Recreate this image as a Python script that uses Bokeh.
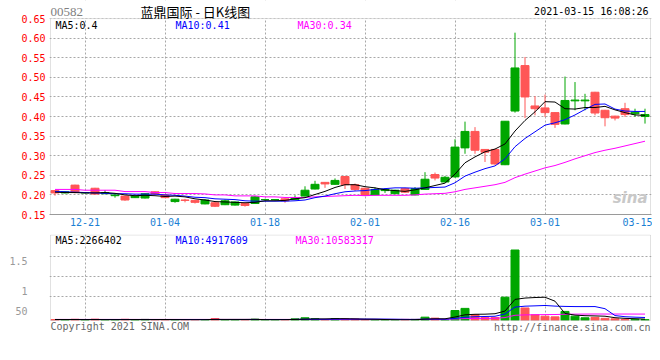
from bokeh.plotting import figure
from bokeh.models import Range1d, FixedTicker, Label, ColumnDataSource, PrintfTickFormatter, BoxAnnotation
from bokeh.layouts import column
from bokeh.embed import file_html
from bokeh.resources import INLINE

# ---------------- data ----------------
dates = ["12-16", "12-17", "12-18", "12-21", "12-22", "12-23", "12-24", "12-28", "12-29", "12-30",
         "12-31", "01-04", "01-05", "01-06", "01-07", "01-08", "01-11", "01-12", "01-13", "01-14",
         "01-15", "01-18", "01-19", "01-20", "01-21", "01-22", "01-25", "01-26", "01-27", "01-28",
         "01-29", "02-01", "02-02", "02-03", "02-04", "02-05", "02-08", "02-09", "02-10", "02-11",
         "02-16", "02-17", "02-18", "02-19", "02-22", "02-23", "02-24", "02-25", "02-26", "03-01",
         "03-02", "03-03", "03-04", "03-05", "03-08", "03-09", "03-10", "03-11", "03-12", "03-15"]

open_ = [0.211, 0.205, 0.225, 0.205, 0.217, 0.203, 0.198, 0.197, 0.193, 0.192,
         0.208, 0.200, 0.183, 0.187, 0.186, 0.177, 0.180, 0.175, 0.174, 0.178,
         0.178, 0.188, 0.188, 0.190, 0.188, 0.197, 0.215, 0.232, 0.227, 0.247,
         0.226, 0.217, 0.200, 0.211, 0.203, 0.216, 0.200, 0.214, 0.252, 0.233,
         0.246, 0.320, 0.362, 0.316, 0.316, 0.277, 0.414, 0.530, 0.427, 0.422,
         0.410, 0.381, 0.440, 0.440, 0.462, 0.416, 0.401, 0.420, 0.407, 0.400]
high = [0.212, 0.209, 0.226, 0.207, 0.218, 0.212, 0.202, 0.198, 0.198, 0.204,
        0.209, 0.201, 0.190, 0.190, 0.187, 0.189, 0.181, 0.188, 0.183, 0.179,
        0.197, 0.190, 0.189, 0.191, 0.199, 0.222, 0.236, 0.233, 0.242, 0.248,
        0.229, 0.218, 0.219, 0.217, 0.213, 0.218, 0.220, 0.258, 0.257, 0.248,
        0.342, 0.387, 0.373, 0.317, 0.317, 0.388, 0.614, 0.552, 0.452, 0.456,
        0.411, 0.502, 0.488, 0.458, 0.463, 0.417, 0.402, 0.435, 0.420, 0.420]
low = [0.198, 0.204, 0.204, 0.205, 0.201, 0.202, 0.193, 0.185, 0.192, 0.191,
       0.201, 0.192, 0.180, 0.181, 0.178, 0.176, 0.169, 0.174, 0.173, 0.170,
       0.177, 0.186, 0.186, 0.180, 0.187, 0.196, 0.214, 0.218, 0.226, 0.215,
       0.210, 0.198, 0.199, 0.205, 0.202, 0.205, 0.199, 0.213, 0.237, 0.232,
       0.244, 0.305, 0.305, 0.284, 0.277, 0.276, 0.410, 0.396, 0.403, 0.399,
       0.371, 0.380, 0.416, 0.416, 0.403, 0.375, 0.390, 0.399, 0.399, 0.382]
close = [0.205, 0.208, 0.206, 0.206, 0.202, 0.206, 0.200, 0.187, 0.197, 0.203,
         0.202, 0.193, 0.189, 0.186, 0.181, 0.187, 0.171, 0.185, 0.182, 0.173,
         0.195, 0.188, 0.188, 0.185, 0.193, 0.212, 0.227, 0.228, 0.237, 0.226,
         0.214, 0.199, 0.214, 0.214, 0.212, 0.207, 0.216, 0.240, 0.243, 0.245,
         0.322, 0.362, 0.314, 0.309, 0.279, 0.388, 0.524, 0.450, 0.420, 0.410,
         0.380, 0.441, 0.442, 0.442, 0.409, 0.397, 0.396, 0.405, 0.411, 0.405]

ma5 = [0.207, 0.206, 0.206, 0.205, 0.205, 0.206, 0.204, 0.200, 0.198, 0.199,
       0.198, 0.196, 0.197, 0.195, 0.190, 0.187, 0.183, 0.182, 0.181, 0.180,
       0.181, 0.185, 0.185, 0.186, 0.190, 0.193, 0.201, 0.209, 0.219, 0.226,
       0.226, 0.221, 0.218, 0.213, 0.211, 0.209, 0.213, 0.218, 0.224, 0.230,
       0.253, 0.282, 0.297, 0.310, 0.317, 0.330, 0.363, 0.390, 0.412, 0.438,
       0.437, 0.420, 0.419, 0.423, 0.423, 0.426, 0.417, 0.410, 0.404, 0.403]
ma10 = [0.209, 0.208, 0.207, 0.206, 0.205, 0.204, 0.203, 0.203, 0.202, 0.202,
        0.202, 0.200, 0.199, 0.197, 0.194, 0.193, 0.190, 0.189, 0.188, 0.185,
        0.184, 0.184, 0.184, 0.184, 0.185, 0.187, 0.193, 0.197, 0.203, 0.208,
        0.210, 0.211, 0.214, 0.216, 0.218, 0.218, 0.217, 0.218, 0.219, 0.220,
        0.231, 0.248, 0.258, 0.267, 0.274, 0.292, 0.323, 0.344, 0.361, 0.378,
        0.384, 0.392, 0.404, 0.418, 0.431, 0.432, 0.419, 0.414, 0.413, 0.413]
ma30 = [0.214, 0.214, 0.214, 0.212, 0.212, 0.212, 0.212, 0.2085, 0.2085, 0.2085,
        0.206, 0.206, 0.2035, 0.2035, 0.2035, 0.2025, 0.200, 0.200, 0.1975, 0.1975,
        0.1975, 0.195, 0.195, 0.1935, 0.1935, 0.1935, 0.195, 0.196, 0.197, 0.198,
        0.199, 0.198, 0.199, 0.199, 0.199, 0.199, 0.200, 0.202, 0.203, 0.204,
        0.208, 0.214, 0.218, 0.222, 0.226, 0.232, 0.244, 0.253, 0.261, 0.269,
        0.275, 0.283, 0.292, 0.300, 0.308, 0.314, 0.319, 0.325, 0.331, 0.337]

# volume, millions of shares
volume = [1.5, 1.2, 2.0, 1.0, 2.2, 1.0, 1.2, 2.0, 1.5, 1.8,
          1.3, 1.4, 1.6, 1.0, 1.5, 1.6, 3.2, 1.5, 1.2, 1.4,
          2.2, 1.0, 1.2, 1.3, 2.8, 4.5, 3.0, 1.5, 3.2, 2.6,
          2.5, 1.0, 1.0, 1.0, 1.0, 1.8, 1.8, 5.5, 3.9, 1.0,
          16.5, 20.0, 9.8, 4.8, 4.8, 38.5, 116.3, 20.7, 9.3, 7.1,
          6.0, 15.0, 7.2, 4.5, 5.2, 3.5, 2.8, 1.6, 1.9, 1.5]
vol_ma5 = [1.6, 1.6, 1.6, 1.5, 1.58, 1.48, 1.48, 1.48, 1.58, 1.50,
           1.56, 1.60, 1.52, 1.42, 1.36, 1.42, 1.78, 1.76, 1.80, 1.78,
           1.90, 1.46, 1.40, 1.42, 1.70, 2.16, 2.56, 2.62, 3.00, 2.96,
           2.56, 2.16, 2.06, 1.62, 1.30, 1.16, 1.32, 2.22, 2.80, 2.80,
           5.74, 9.38, 10.24, 10.42, 11.18, 15.58, 34.84, 37.02, 37.92, 38.38,
           31.88, 11.62, 8.92, 7.96, 7.58, 7.08, 4.64, 3.52, 3.00, 2.26]
vol_ma10 = [1.6, 1.6, 1.6, 1.6, 1.6, 1.6, 1.6, 1.6, 1.6, 1.54,
            1.52, 1.54, 1.50, 1.50, 1.43, 1.49, 1.69, 1.64, 1.61, 1.57,
            1.66, 1.62, 1.58, 1.61, 1.74, 2.03, 2.01, 2.01, 2.21, 2.33,
            2.36, 2.36, 2.34, 2.31, 2.13, 1.86, 1.74, 2.14, 2.21, 2.05,
            3.45, 5.35, 6.23, 6.61, 6.99, 10.66, 22.11, 23.63, 24.17, 24.78,
            23.73, 23.23, 22.97, 22.94, 22.98, 19.48, 8.13, 6.22, 5.48, 4.92]
vol_ma30 = [1.8, 1.8, 1.8, 1.8, 1.8, 1.8, 1.8, 1.8, 1.8, 1.8,
            1.8, 1.8, 1.8, 1.8, 1.8, 1.8, 1.8, 1.8, 1.8, 1.8,
            1.8, 1.8, 1.8, 1.8, 1.8, 1.8, 1.8, 1.8, 1.8, 1.81,
            1.85, 1.84, 1.81, 1.81, 1.77, 1.79, 1.81, 1.93, 2.01, 1.98,
            2.49, 3.11, 3.38, 3.51, 3.62, 4.85, 8.62, 9.26, 9.53, 9.72,
            9.85, 10.31, 10.51, 10.62, 10.70, 10.67, 10.66, 10.66, 10.62, 10.58]

tick_dates = ["12-21", "01-04", "01-18", "02-01", "02-16", "03-01", "03-15"]
price_ticks = [0.15, 0.20, 0.25, 0.30, 0.35, 0.40, 0.45, 0.50, 0.55, 0.60, 0.65]
vol_tick_values = [16.5, 49.5, 97.8]
vol_tick_labels = ["50", "1", "1.5"]
vol_grid_values = [40.0, 72.5, 105.5]

header_code = "00582"
header_title = "蓝鼎国际 - 日K线图"
header_time = "2021-03-15 16:08:26"
price_legend = ["MA5:0.4", "MA10:0.41", "MA30:0.34"]
vol_legend = ["MA5:2266402", "MA10:4917609", "MA30:10583317"]
copyright_text = "Copyright 2021 SINA.COM"
url_text = "http://finance.sina.com.cn"
watermark = "sina"

# ---------------- styles / layout ----------------
UP = "#00a600"
DOWN = "#ff5656"
GRID = "#a8a8a8"
BORDER = "#9a9a9a"
MONO = "DejaVu Sans Mono"
MA_COLORS = ["#000000", "#0000ff", "#ff00ff"]

W = 652
PITCH = 10.0          # px per trading day
X0_PX = 54.5          # pixel of first candle
FRAME_L, FRAME_R = 49, 651
P1_H, P1_BOTTOM_PX = 233, 214          # price panel: canvas height, pixel of 0.15
PRICE_LO, PRICE_TOP_GRID = 0.15, 0.65
PX_PER_PRICE = 391.87
P2_TOP, P2_H = 233, 119                # volume panel canvas top / height
VOL_BASE_PX, VOL_TOP_PX = 320, 234
VOL_PER_PX = 1.65


def fx(px):
    return (px - X0_PX) / PITCH


def fy_price(py):
    return PRICE_LO + (P1_BOTTOM_PX - py) / PX_PER_PRICE


def fy_vol(py):
    return (VOL_BASE_PX - py) * VOL_PER_PX


xs = list(range(len(dates)))
colors = [UP if c >= o else DOWN for o, c in zip(open_, close)]
src = ColumnDataSource(dict(
    x=xs, open=open_, high=high, low=low, close=close,
    top=[max(o, c) for o, c in zip(open_, close)],
    bottom=[min(o, c) for o, c in zip(open_, close)],
    color=colors, ma5=ma5, ma10=ma10, ma30=ma30,
    vol=volume, vma5=vol_ma5, vma10=vol_ma10, vma30=vol_ma30,
))
tick_idx = [dates.index(d) for d in tick_dates]
grid_idx = tick_idx[:-1]
# last date label is right-aligned against the panel edge, as in the original
label_pos = grid_idx + [fx(637.5)]

x_range = Range1d(fx(FRAME_L), fx(FRAME_R))


def label(p, text, x, y, color, size="10px", font=MONO, align="left", style="normal"):
    p.add_layout(Label(x=x, y=y, text=text, text_color=color, text_font_size=size,
                       text_font=font, text_align=align, text_baseline="middle",
                       text_font_style=style))


def style_common(p):
    p.background_fill_color = "white"
    p.border_fill_color = "white"
    p.outline_line_color = None
    for g in (p.xgrid, p.ygrid):
        g.grid_line_color = GRID
        g.grid_line_dash = "2 2"
        g.grid_line_width = 1
    for ax in (p.xaxis, p.yaxis):
        ax.major_tick_line_color = None
        ax.minor_tick_line_color = None
        ax.major_tick_out = 0
        ax.major_tick_in = 0
    p.yaxis.axis_line_color = None


# ---------------- price panel ----------------
p1_top_val = fy_price(0)
p1 = figure(width=W, height=P1_H, title=None, output_backend="svg", toolbar_location=None,
            x_range=x_range, y_range=Range1d(PRICE_LO, p1_top_val),
            min_border_left=FRAME_L, min_border_right=W - FRAME_R,
            min_border_top=0, min_border_bottom=P1_H - P1_BOTTOM_PX)
style_common(p1)
p1.yaxis.ticker = FixedTicker(ticks=price_ticks)
p1.yaxis.formatter = PrintfTickFormatter(format="%.2f")
p1.yaxis.major_label_text_color = "#ff0000"
p1.yaxis.major_label_text_font = MONO
p1.yaxis.major_label_text_font_size = "10px"
p1.yaxis.major_label_standoff = 4
p1.ygrid.ticker = FixedTicker(ticks=price_ticks)
p1.xaxis.axis_line_color = BORDER
p1.xaxis.ticker = FixedTicker(ticks=label_pos)
p1.xaxis.major_label_overrides = {pos: d for pos, d in zip(label_pos, tick_dates)}
p1.xaxis.major_label_text_color = "#1a7fd4"
p1.xaxis.major_label_text_font = MONO
p1.xaxis.major_label_text_font_size = "10px"
p1.xaxis.major_label_standoff = 3
p1.xgrid.ticker = FixedTicker(ticks=grid_idx)

p1.segment(x0="x", y0="low", x1="x", y1="high", color="color", line_width=1, source=src)
p1.vbar(x="x", width=0.8, top="top", bottom="bottom", fill_color="color",
        line_color="color", line_width=1, source=src)
p1.line("x", "ma30", color=MA_COLORS[2], line_width=1, source=src)
p1.line("x", "ma10", color=MA_COLORS[1], line_width=1, source=src)
p1.line("x", "ma5", color=MA_COLORS[0], line_width=1, source=src)

# header strip above the chart box: white mask, then the box border
p1.add_layout(BoxAnnotation(bottom=PRICE_TOP_GRID, top=p1_top_val, left=fx(FRAME_L), right=fx(FRAME_R),
                            fill_color="white", fill_alpha=1.0, line_color=None))
p1.add_layout(BoxAnnotation(bottom=PRICE_LO, top=PRICE_TOP_GRID, left=fx(50), right=fx(650),
                            fill_alpha=0.0, line_color=BORDER, line_width=1))

hy = fy_price(11)
label(p1, header_code, fx(50), hy, "#808080", size="13px", font="Liberation Serif")
label(p1, header_title, fx(140), hy, "#000000", size="13px", font="Noto Sans CJK SC")
label(p1, header_time, fx(648), hy, "#000000", align="right")
ly = fy_price(24.5)
for txt, px, col in zip(price_legend, [55, 175, 297], MA_COLORS):
    label(p1, txt, fx(px), ly, col)
label(p1, watermark, fx(647), fy_price(197), "#c8c8c8", size="15px", font="DejaVu Sans",
      align="right", style="bold italic")

# ---------------- volume panel ----------------
vol_top = fy_vol(VOL_TOP_PX)
vol_bottom = fy_vol(P2_TOP + P2_H)
p2 = figure(width=W, height=P2_H, title=None, output_backend="svg", toolbar_location=None,
            x_range=x_range, y_range=Range1d(vol_bottom, vol_top),
            min_border_left=FRAME_L, min_border_right=W - FRAME_R,
            min_border_top=VOL_TOP_PX - P2_TOP, min_border_bottom=0)
style_common(p2)
p2.xaxis.visible = False
p2.xaxis.ticker = FixedTicker(ticks=grid_idx)
p2.xgrid.ticker = FixedTicker(ticks=grid_idx)
p2.ygrid.ticker = FixedTicker(ticks=vol_grid_values)
p2.yaxis.ticker = FixedTicker(ticks=vol_tick_values)
p2.yaxis.major_label_overrides = {v: t for v, t in zip(vol_tick_values, vol_tick_labels)}
p2.yaxis.major_label_text_color = "#999999"
p2.yaxis.major_label_text_font = MONO
p2.yaxis.major_label_text_font_size = "10px"
p2.yaxis.major_label_standoff = 22

p2.vbar(x="x", width=0.8, top="vol", bottom=0, fill_color="color", line_color="color",
        line_width=1, source=src)
p2.line("x", "vma30", color=MA_COLORS[2], line_width=1, source=src)
p2.line("x", "vma10", color=MA_COLORS[1], line_width=1, source=src)
p2.line("x", "vma5", color=MA_COLORS[0], line_width=1, source=src)

p2.add_layout(BoxAnnotation(bottom=vol_bottom, top=0, left=fx(FRAME_L), right=fx(FRAME_R),
                            fill_color="white", fill_alpha=1.0, line_color=None))
p2.add_layout(BoxAnnotation(bottom=0, top=fy_vol(VOL_TOP_PX + 0.5), left=fx(50), right=fx(650),
                            fill_alpha=0.0, line_color=BORDER, line_width=1))

vy = fy_vol(239.5)
for txt, px, col in zip(vol_legend, [55, 175, 295], MA_COLORS):
    label(p2, txt, fx(px), vy, col)
label(p2, copyright_text, fx(50), fy_vol(326), "#666666")
label(p2, url_text, fx(650), fy_vol(327), "#666666", align="right")

layout = column(p1, p2, spacing=0)
open("out.html", "w").write(file_html(layout, INLINE))
